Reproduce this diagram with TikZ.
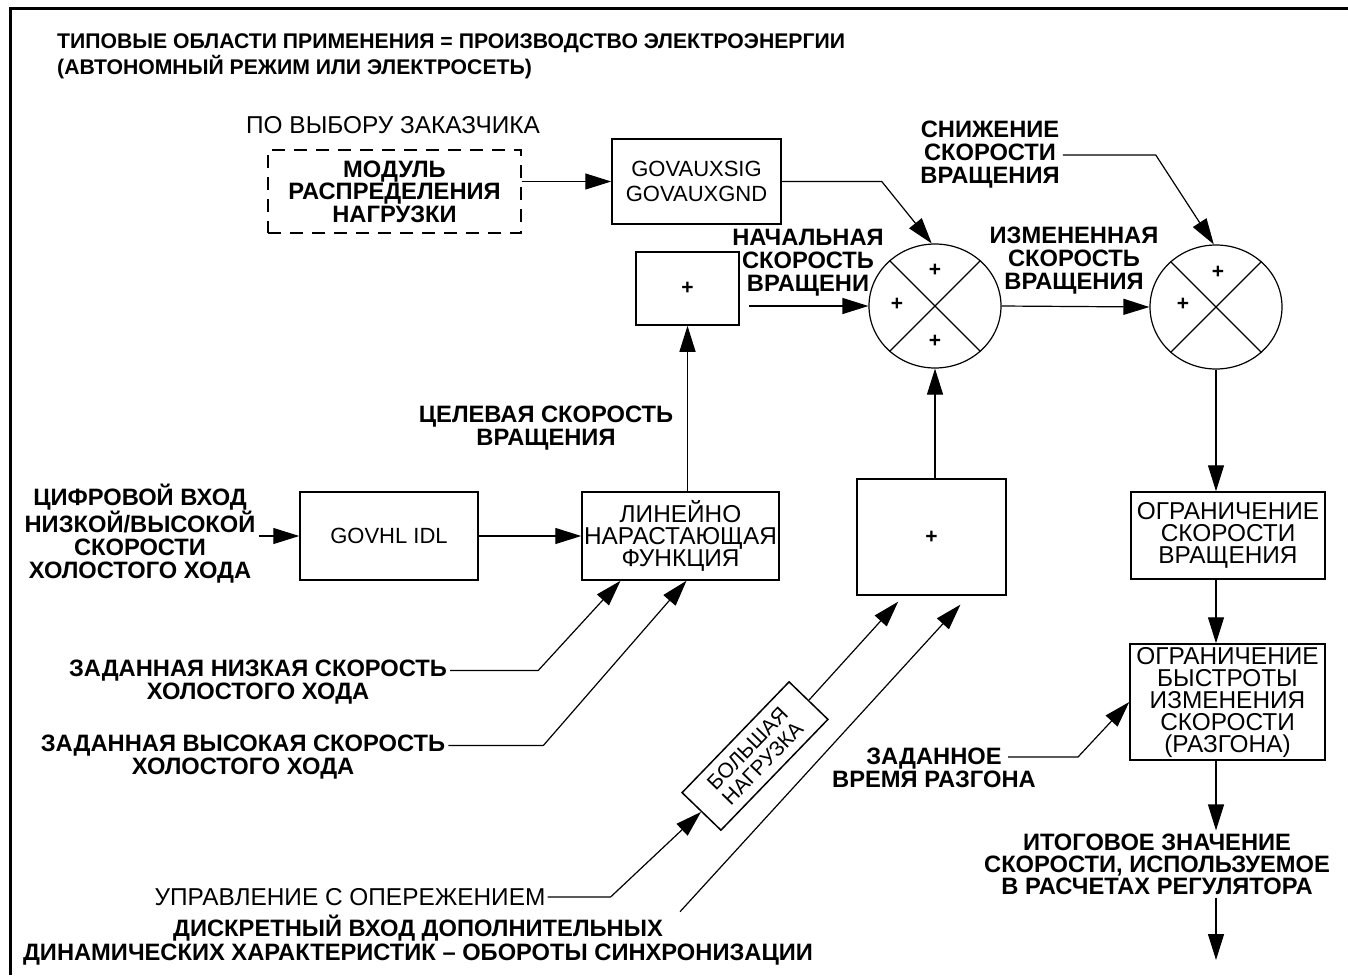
\documentclass[tikz,border=0pt]{standalone}
\usepackage{fontspec}
\setmainfont{Liberation Sans}
\usetikzlibrary{arrows.meta,positioning,shapes.geometric}

\begin{document}
\begin{tikzpicture}[
  x=1pt, y=-1pt,
  box/.style={draw, line width=1.5pt, align=center, inner sep=0pt,
              font=\fontsize{24.4}{22}\selectfont},
  lbl/.style={align=center, inner sep=3pt, font=\fontsize{23.7}{23}\selectfont\bfseries},
  note/.style={inner sep=2pt, font=\fontsize{24.4}{23}\selectfont},
  summ/.style={draw, ellipse, line width=1.2pt, minimum width=132pt,
               minimum height=124pt, inner sep=0pt},
  sgn/.style={inner sep=0pt, font=\fontsize{21}{21}\selectfont\bfseries},
  arr/.style={-{Triangle[length=26pt,width=16pt]}, line width=1.2pt}
]
\useasboundingbox (0,0) rectangle (1348,975);
\draw[line width=3pt] (10,975) -- (10,8.5) -- (1348,8.5);

\node[lbl, font=\fontsize{21.2}{26}\selectfont\bfseries, align=left, anchor=west] (title) at (54,56)
  {ТИПОВЫЕ ОБЛАСТИ ПРИМЕНЕНИЯ = ПРОИЗВОДСТВО ЭЛЕКТРОЭНЕРГИИ\\(АВТОНОМНЫЙ РЕЖИМ ИЛИ ЭЛЕКТРОСЕТЬ)};

% top row: optional load sharing module
\node[note] (customer) at (393,125) {ПО ВЫБОРУ ЗАКАЗЧИКА};
\node[box, dash pattern=on 13pt off 9pt, minimum width=253pt, minimum height=83pt,
      font=\fontsize{23.7}{22.5}\selectfont\bfseries] (loadshare) at (394.5,191.5)
  {МОДУЛЬ\\РАСПРЕДЕЛЕНИЯ\\НАГРУЗКИ};
\node[box, minimum width=169pt, minimum height=85pt, font=\fontsize{22}{25}\selectfont] (govaux) at (696.5,181.5)
  {GOVAUXSIG\\GOVAUXGND};
\node[box, minimum width=103pt, minimum height=73pt, font=\fontsize{21}{21}\selectfont\bfseries] (plusA) at (687.5,288.5) {+};

% summing junctions
\node[summ] (sumA) at (935,306) {};
\node[summ] (sumB) at (1216,307) {};
\foreach \s in {sumA,sumB}
  \draw[line width=1.2pt] (\s.45) -- (\s.225) (\s.135) -- (\s.315);
\node[sgn] (sA1) at ([yshift=36pt]sumA.center) {+};
\node[sgn] (sA2) at ([xshift=-38pt,yshift=2pt]sumA.center) {+};
\node[sgn] (sA3) at ([yshift=-35pt]sumA.center) {+};
\node[sgn] (sB1) at ([xshift=2pt,yshift=35pt]sumB.center) {+};
\node[sgn] (sB2) at ([xshift=-33pt,yshift=3pt]sumB.center) {+};

\node[lbl] (startspd) at (808,263) {НАЧАЛЬНАЯ\\СКОРОСТЬ\\ВРАЩЕНИ};
\node[lbl] (newspd) at (1074,261) {ИЗМЕНЕННАЯ\\СКОРОСТЬ\\ВРАЩЕНИЯ};
\node[lbl] (droop) at (990,155) {СНИЖЕНИЕ\\СКОРОСТИ\\ВРАЩЕНИЯ};
\node[lbl] (target) at (546,428) {ЦЕЛЕВАЯ СКОРОСТЬ\\ВРАЩЕНИЯ};

% middle row
\node[lbl] (idlein) at (140,534) {ЦИФРОВОЙ ВХОД\\НИЗКОЙ/ВЫСОКОЙ\\СКОРОСТИ\\ХОЛОСТОГО ХОДА};
\node[box, minimum width=178pt, minimum height=88pt, font=\fontsize{22}{22}\selectfont] (govhl) at (389,536) {GOVHL IDL};
\node[box, minimum width=197pt, minimum height=88pt] (ramp) at (680.5,536)
  {ЛИНЕЙНО\\НАРАСТАЮЩАЯ\\ФУНКЦИЯ};
\node[box, minimum width=149pt, minimum height=116pt, font=\fontsize{21}{21}\selectfont\bfseries] (plusB) at (931.5,537) {+};
\node[box, minimum width=194pt, minimum height=87pt] (spdlim) at (1228,535.5)
  {ОГРАНИЧЕНИЕ\\СКОРОСТИ\\ВРАЩЕНИЯ};
\node[box, minimum width=195pt, minimum height=116pt] (ratelim) at (1227.5,702)
  {ОГРАНИЧЕНИЕ\\БЫСТРОТЫ\\ИЗМЕНЕНИЯ\\СКОРОСТИ\\(РАЗГОНА)};
\node[lbl, font=\fontsize{23.7}{22}\selectfont\bfseries] (final) at (1157,864)
  {ИТОГОВОЕ ЗНАЧЕНИЕ\\СКОРОСТИ, ИСПОЛЬЗУЕМОЕ\\В РАСЧЕТАХ РЕГУЛЯТОРА};
\coordinate (out) at (1216,960);

% lower inputs
\node[lbl] (lowidle) at (258,682) {ЗАДАННАЯ НИЗКАЯ СКОРОСТЬ\\ХОЛОСТОГО ХОДА};
\node[lbl] (highidle) at (243,757) {ЗАДАННАЯ ВЫСОКАЯ СКОРОСТЬ\\ХОЛОСТОГО ХОДА};
\node[note] (feedfwd) at (350,897) {УПРАВЛЕНИЕ С ОПЕРЕЖЕНИЕМ};
\node[lbl, font=\fontsize{23.7}{24}\selectfont\bfseries] (sync) at (418,940)
  {ДИСКРЕТНЫЙ ВХОД ДОПОЛНИТЕЛЬНЫХ\\ДИНАМИЧЕСКИХ ХАРАКТЕРИСТИК – ОБОРОТЫ СИНХРОНИЗАЦИИ};
\node[lbl] (acctime) at (934,768) {ЗАДАННОЕ\\ВРЕМЯ РАЗГОНА};
\node[box, rotate=46, minimum width=154pt, minimum height=54pt,
      font=\fontsize{21}{21}\selectfont] (heavy) at (755,756) {БОЛЬШАЯ\\НАГРУЗКА};

% connectors
\draw[arr] (loadshare.east |- govaux.west) -- (govaux.west);
\draw[arr] (govaux.east) -- ++(100,0) -- (sumA.93);
\draw[arr, shorten <=9pt] (plusA.east |- sumA.west) -- (sumA.west);
\draw[arr] (sumA.east) -- (sumB.west);
\draw[arr] (droop.east) -- ++(93,0) -- (sumB.92);
\draw[arr] (sumB.south) -- (sumB.south |- spdlim.north);
\draw[arr] (spdlim.south -| sumB) -- (ratelim.north -| sumB);
\draw[arr] (ratelim.south -| sumB) -- (final.north -| sumB);
\draw[arr] (final.south -| sumB) -- (out);

\draw[arr] (idlein.east |- govhl.west) -- (govhl.west);
\draw[arr] (govhl.east) -- (ramp.west);
\draw[arr] (ramp.north -| plusA) -- (plusA.south);
\draw[arr] (plusB.north -| sumA) -- (sumA.south);

\draw[arr] ([yshift=11.5pt]lowidle.east) -- ++(88,0) -- ([xshift=-60pt]ramp.south);
\draw[arr] ([yshift=11.5pt]highidle.east) -- ++(95,0) -- ([xshift=6pt]ramp.south);
\draw[arr] (feedfwd.east) -- ++(63,0) -- (heavy.west);
\draw[arr, shorten >=8pt] (heavy.east) -- ([xshift=-28pt]plusB.south);
\draw[arr, shorten >=12pt] ([xshift=262pt]sync.north) -- ([xshift=37pt]plusB.south);
\draw[arr] ([xshift=74pt,yshift=11pt]acctime.center) -- ++(70,0) -- (ratelim.west);
\end{tikzpicture}
\end{document}
